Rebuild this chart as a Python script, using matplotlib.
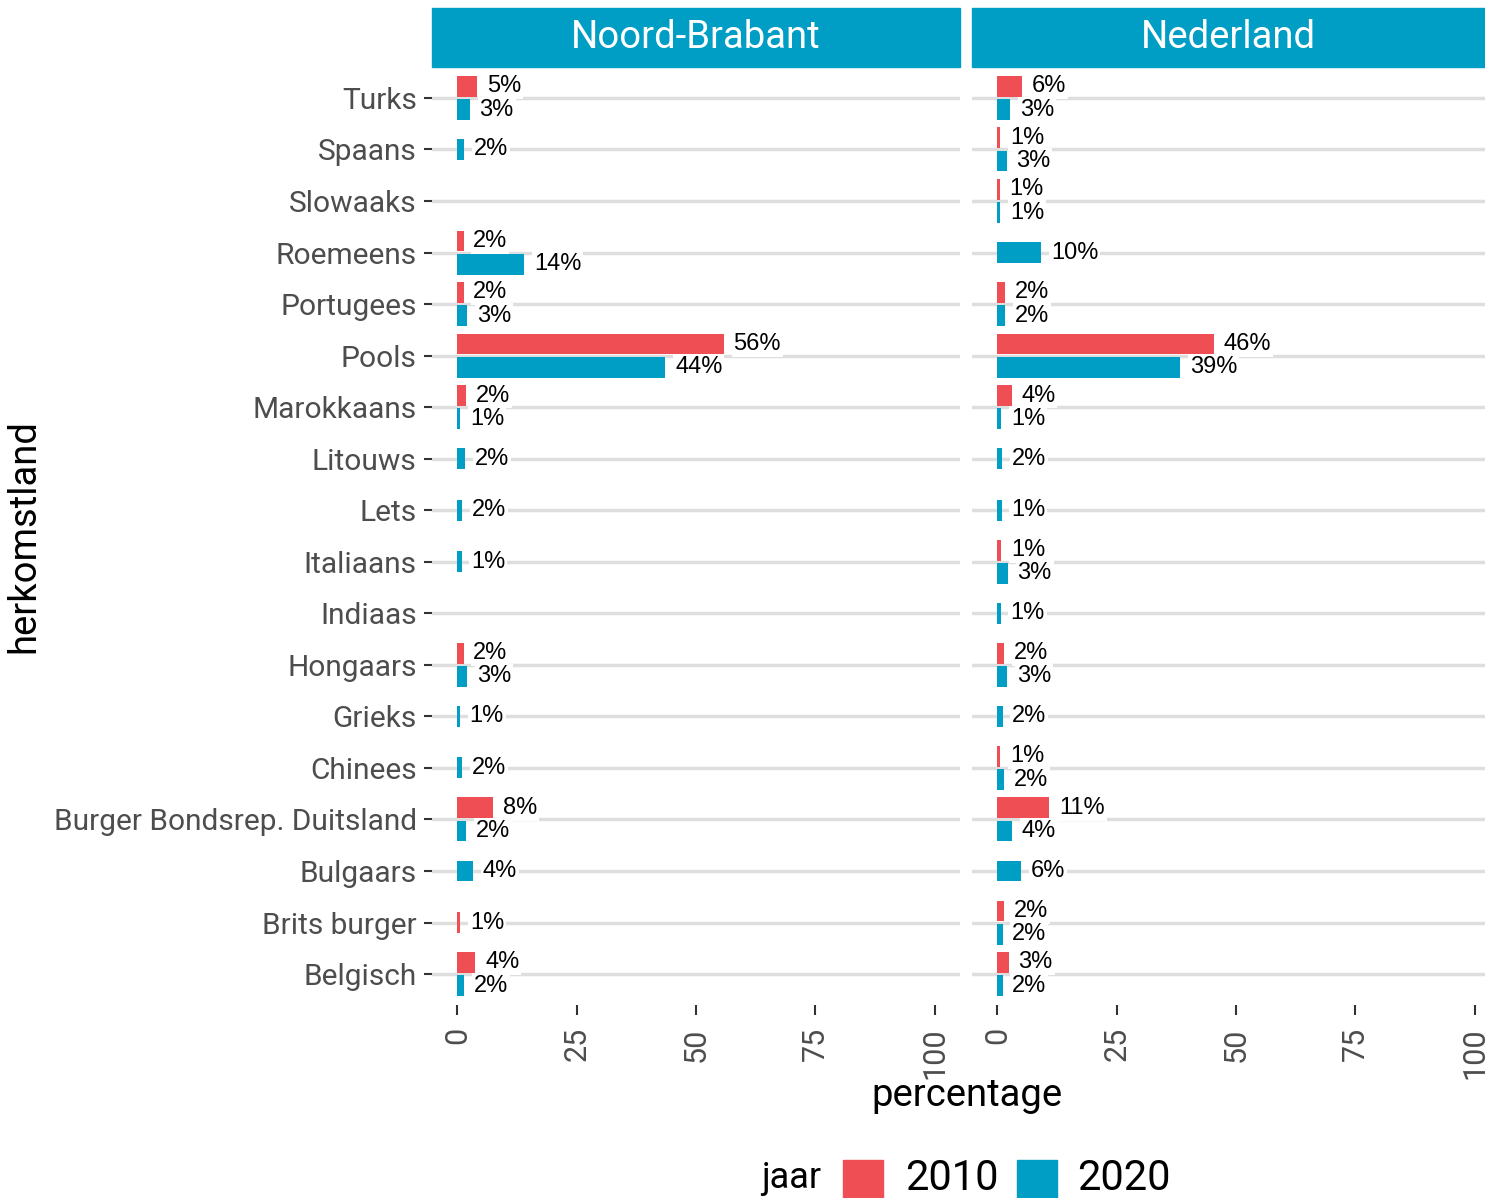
import numpy as np
import matplotlib.pyplot as plt
from matplotlib.patches import Rectangle

W, H = 1485, 1198

# categories from top to bottom
categories = ["Turks", "Spaans", "Slowaaks", "Roemeens", "Portugees", "Pools",
              "Marokkaans", "Litouws", "Lets", "Italiaans", "Indiaas", "Hongaars",
              "Grieks", "Chinees", "Burger Bondsrep. Duitsland", "Bulgaars",
              "Brits burger", "Belgisch"]

# bar lengths (None = no bar)
nb_2010 = [4.2, None, None, 1.3, 1.3, 55.8, 1.9, None, None, None, None, 1.3,
           None, None, 7.5, None, 0.6, 3.8]
nb_2020 = [2.6, 1.5, None, 14.0, 2.1, 43.6, 0.6, 1.7, 1.0, 0.9, None, 2.1,
           0.5, 1.0, 1.9, 3.3, None, 1.5]
nl_2010 = [5.1, 0.6, 0.5, None, 1.7, 45.3, 3.0, None, None, 0.8, None, 1.5,
           None, 0.6, 10.9, None, 1.4, 2.4]
nl_2020 = [2.65, 1.95, 0.6, 9.2, 1.6, 38.3, 0.8, 1.0, 0.9, 2.2, 0.7, 2.1,
           1.1, 1.5, 3.1, 5.0, 1.1, 1.1]

# labels as printed
nb_2010_lab = ["5%", "", "", "2%", "2%", "56%", "2%", "", "", "", "", "2%",
               "", "", "8%", "", "1%", "4%"]
nb_2020_lab = ["3%", "2%", "", "14%", "3%", "44%", "1%", "2%", "2%", "1%", "", "3%",
               "1%", "2%", "2%", "4%", "", "2%"]
nl_2010_lab = ["6%", "1%", "1%", "", "2%", "46%", "4%", "", "", "1%", "", "2%",
               "", "1%", "11%", "", "2%", "3%"]
nl_2020_lab = ["3%", "3%", "1%", "10%", "2%", "39%", "1%", "2%", "1%", "3%", "1%", "3%",
               "2%", "2%", "4%", "6%", "2%", "2%"]

panels = ["Noord-Brabant", "Nederland"]
years = ["2010", "2020"]
col_2010 = "#F04E55"
col_2020 = "#009DC4"
strip_col = "#009DC4"

plt.rcParams['font.family'] = ['Roboto', 'DejaVu Sans']

fig = plt.figure(figsize=(W / 100, H / 100), dpi=100)

n = len(categories)
ypos = np.arange(n)[::-1]  # Turks on top

panel_top, panel_bot = 67, 1005
lefts = [432, 972]
pw = 528

def draw_panel(ax, v10, v20, l10, l20, first):
    for i in range(n):
        y = ypos[i]
        both = v10[i] is not None and v20[i] is not None
        for v, lab, col, off in [(v10[i], l10[i], col_2010, 0.225),
                                 (v20[i], l20[i], col_2020, -0.225)]:
            if v is None:
                continue
            yy = y + off if both else y
            ax.barh(yy, v, height=0.405, color=col, zorder=2)
            ax.annotate(lab, (v, yy), xytext=(7, 0), textcoords='offset points',
                        ha='left', va='center', fontsize=17, family='Liberation Sans',
                        bbox=dict(boxstyle='square,pad=0.08', fc='white', ec='none'),
                        zorder=3)
    ax.set_xlim(-5.3, 105.3)
    ax.set_ylim(-0.6, n - 1 + 0.6)
    ax.set_yticks(ypos)
    ax.grid(axis='y', color='#DEDEDE', linewidth=2.5, zorder=0)
    ax.set_axisbelow(True)
    for s in ax.spines.values():
        s.set_visible(False)
    ax.set_xticks([0, 25, 50, 75, 100])
    ax.set_xticklabels(["0", "25", "50", "75", "100"], rotation=90,
                       fontsize=22, color='#4D4D4D')
    ax.tick_params(axis='x', length=7, width=1.5, color='#333333', pad=9)
    if first:
        ax.set_yticklabels(categories, fontsize=21.5, color='#4D4D4D')
        ax.tick_params(axis='y', length=6, width=1.5, color='#333333', pad=5)
    else:
        ax.set_yticklabels([])
        ax.tick_params(axis='y', length=0)

axes = []
for k, (v10, v20, l10, l20) in enumerate([(nb_2010, nb_2020, nb_2010_lab, nb_2020_lab),
                                          (nl_2010, nl_2020, nl_2010_lab, nl_2020_lab)]):
    ax = fig.add_axes([lefts[k] / W, 1 - panel_bot / H, pw / W,
                       (panel_bot - panel_top) / H])
    draw_panel(ax, v10, v20, l10, l20, k == 0)
    axes.append(ax)
    # strip
    fig.patches.append(Rectangle((lefts[k] / W, 1 - 67 / H), pw / W, 59 / H,
                                 transform=fig.transFigure, color=strip_col, zorder=0))
    sw = min(pw, W - lefts[k])
    fig.text((lefts[k] + sw / 2) / W, 1 - 38 / H, panels[k], color='white',
             fontsize=27.5, ha='center', va='center')

fig.text(967 / W, 1 - 1095 / H, "percentage", fontsize=27.5, ha='center', va='center')
fig.text(24 / W, 1 - 536 / H, "herkomstland", fontsize=27.5, rotation=90,
         ha='center', va='center')

# legend
ly = 1178
fig.text(791 / W, 1 - ly / H, "jaar", fontsize=26, ha='center', va='center')
for x0, col, lab, tx in [(843, col_2010, "2010", 905), (1017, col_2020, "2020", 1077)]:
    fig.patches.append(Rectangle((x0 / W, 1 - 1200 / H), 40 / W, 40 / H,
                                 transform=fig.transFigure, color=col))
    fig.text(tx / W, 1 - ly / H, lab, fontsize=30, ha='left', va='center')

fig.savefig("out.png", dpi=100)
